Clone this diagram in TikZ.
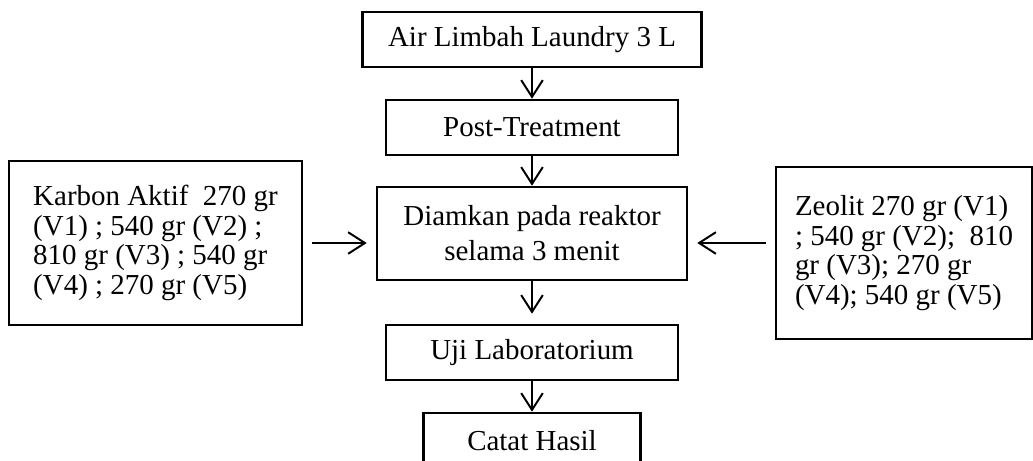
\documentclass[tikz,border=0pt]{standalone}
\usepackage{fontspec}
\setmainfont{Liberation Serif}
\usepackage{tikz}
\usetikzlibrary{arrows.meta}
\tikzset{>={Straight Barb[length=4.2mm,width=5.4mm]}}
\tikzset{
    box/.style={draw=black, line width=1.8pt, inner sep=0pt,
        font=\fontsize{20.6}{21}\selectfont},
    arr/.style={->, line width=1.4pt}
}

\begin{document}
\begin{tikzpicture}

    \useasboundingbox (0,0) rectangle (25.825,11.525);
    \clip (0,0) rectangle (25.825,11.525);

    % Main steps
    \node[box, minimum width=8.475cm, minimum height=1.375cm] (air) at (13.3,10.5375) {Air Limbah Laundry 3 L};
    \node[box, minimum width=7.3cm, minimum height=1.375cm] (post) at (13.3,8.3375) {Post-Treatment};
    \node[box, minimum width=7.75cm, minimum height=2.325cm, align=center,
        font=\fontsize{20.6}{24.9}\selectfont] (diam) at (13.3,5.6875) {Diamkan pada reaktor\\selama 3 menit};
    \node[box, minimum width=7.3cm, minimum height=1.375cm] (uji) at (13.3,2.7125) {Uji Laboratorium};
    \node[box, minimum width=5.425cm, minimum height=1.375cm] (catat) at (13.3,0.5125) {Catat Hasil};

    % Side inputs
    \node[box, minimum width=7.325cm, minimum height=4.1cm, align=left] (karbon) at (3.8875,5.45)
        {Karbon Aktif\ \ 270 gr\\(V1) ; 540 gr (V2) ;\\810 gr (V3) ; 540 gr\\(V4) ; 270 gr (V5)};
    \node[box, minimum width=6.4cm, minimum height=4.3cm, align=left] (zeolit) at (22.6,5.2)
        {Zeolit 270 gr (V1)\\; 540 gr (V2);\ \ 810\\gr (V3); 270 gr\\(V4); 540 gr (V5)};

    % Arrows
    \draw[arr] (air) -- (post);
    \draw[arr] (post) -- (diam);
    \draw[arr, shorten >=0.25cm] (diam) -- (uji);
    \draw[arr] (uji) -- (catat);
    \draw[arr, shorten <=0.225cm, shorten >=0.225cm] (karbon.east) -- (karbon.east -| diam.west);
    \draw[arr, shorten <=0.225cm, shorten >=0.225cm] (zeolit.west |- karbon.east) -- (diam.east |- karbon.east);

\end{tikzpicture}
\end{document}
